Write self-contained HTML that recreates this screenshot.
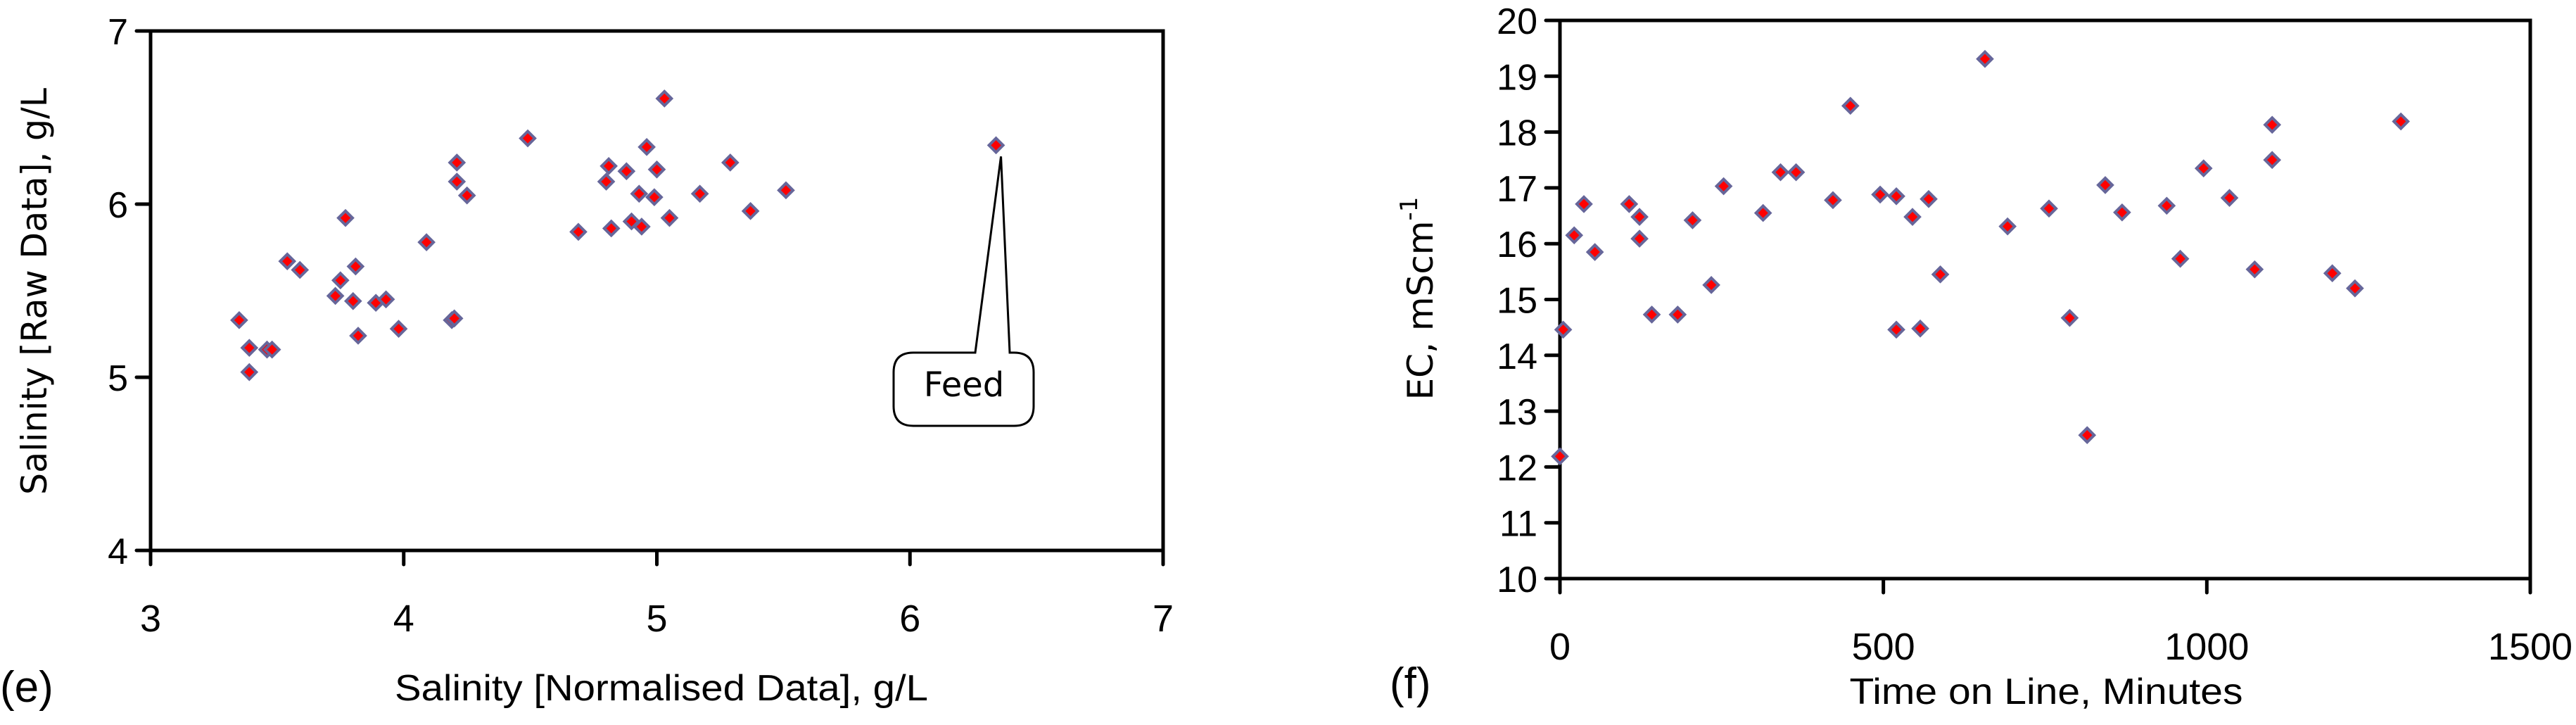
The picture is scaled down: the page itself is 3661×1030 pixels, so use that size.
<!DOCTYPE html>
<html><head><meta charset="utf-8"><style>
html,body{margin:0;padding:0;background:#fff;}
svg{display:block;}
</style></head><body>
<svg id="fig" width="3661" height="1030" viewBox="0 0 3661 1030" xmlns="http://www.w3.org/2000/svg">
<rect x="0" y="0" width="3661" height="1030" fill="#fff"/>
<g id="chartE"></g>
<g id="chartF"></g>
</svg>
<script>
// ---- Chart (e) data ----
const eXTicks = [3, 4, 5, 6, 7];
const eYTicks = [4, 5, 6, 7];
const eNormalised = [3.35,3.39,3.39,3.46,3.48,3.54,3.59,3.73,3.75,3.77,3.80,3.81,3.82,3.89,3.93,3.98,4.09,4.19,4.20,4.21,4.21,4.25,4.49,4.69,4.80,4.81,4.82,4.88,4.90,4.93,4.94,4.96,4.99,5.00,5.03,5.05,5.17,5.29,5.37,5.51,6.34];
const eRaw = [5.33,5.17,5.03,5.16,5.16,5.67,5.62,5.47,5.56,5.92,5.44,5.64,5.24,5.43,5.45,5.28,5.78,5.33,5.34,6.24,6.13,6.05,6.38,5.84,6.13,6.22,5.86,6.19,5.90,6.06,5.87,6.33,6.04,6.20,6.61,5.92,6.06,6.24,5.96,6.08,6.34];
const eFeed = [6.34, 6.34];
// ---- Chart (f) data ----
const fXTicks = [0, 500, 1000, 1500];
const fYTicks = [10,11,12,13,14,15,16,17,18,19,20];
const fTime = [0,5,22,37,54,107,123,123,142,182,205,234,253,314,341,365,422,449,495,520,520,545,557,570,588,657,692,756,788,815,843,869,938,959,995,1035,1074,1101,1101,1194,1229,1300];
const fEC = [12.19,14.46,16.15,16.71,15.85,16.71,16.48,16.09,14.73,14.73,16.42,15.26,17.03,16.55,17.28,17.28,16.78,18.47,16.88,16.85,14.46,16.48,14.48,16.80,15.45,19.31,16.31,16.63,14.67,12.57,17.05,16.56,16.68,15.73,17.35,16.82,15.54,17.50,18.13,15.47,15.20,18.19];

const NS = 'http://www.w3.org/2000/svg';
function mk(parent, tag, attrs, text) {
  const el = document.createElementNS(NS, tag);
  for (const k in attrs) el.setAttribute(k, attrs[k]);
  if (text !== undefined) el.textContent = text;
  parent.appendChild(el);
  return el;
}
function diamond(g, cx, cy) {
  const d = mk(g, 'path', {d:`M${cx},${cy-10}L${cx+10},${cy}L${cx},${cy+10}L${cx-10},${cy}Z`, fill:'#ff0000', stroke:'#66669a', 'stroke-width':4});
  
  
}
const tickFont = '"Liberation Sans", sans-serif';

function drawAxes(g, L, R, T, B, xs, ys, xTicks, yTicks, xLabY) {
  const box = mk(g, 'rect', {x:L, y:T, width:R-L, height:B-T, fill:'none', stroke:'#000', 'stroke-width':5});
  
  
  for (const v of yTicks) {
    const y = ys(v);
    const t = mk(g, 'line', {x1:L-20, x2:L, y1:y, y2:y, stroke:'#000', 'stroke-width':5, 'stroke-linecap':'round'});
    
    
    const lb = mk(g, 'text', {x:L-32, y:y+19, 'text-anchor':'end', 'font-family':tickFont, 'font-size':52}, String(v));
    
    
  }
  for (const v of xTicks) {
    const x = xs(v);
    const t = mk(g, 'line', {x1:x, x2:x, y1:B, y2:B+20, stroke:'#000', 'stroke-width':5, 'stroke-linecap':'round'});
    
    
    const lb = mk(g, 'text', {x:x, y:xLabY, 'text-anchor':'middle', 'font-family':tickFont, 'font-size':54}, String(v));
    
    
  }
}

// ---- Chart (e) ----
(function(){
  const g = document.getElementById('chartE');
  const L=214, R=1653, T=44, B=782;
  const xs = v => L + (v-3)/(7-3)*(R-L);
  const ys = v => B - (v-4)/(7-4)*(B-T);
  drawAxes(g, L, R, T, B, xs, ys, eXTicks, eYTicks, 897);
  for (let i=0;i<eNormalised.length;i++) diamond(g, xs(eNormalised[i]), ys(eRaw[i]));
  const fx = xs(eFeed[0]), fy = ys(eFeed[1]);
  const bx=1270, by=501, bw=199, bh=104, r=28;
  const tipX = fx+7, tipY = fy+16;
  const call = mk(g, 'path', {d:`M${bx+r},${by} L1386,${by} L${tipX},${tipY} L1435,${by} L${bx+bw-r},${by} Q${bx+bw},${by} ${bx+bw},${by+r} L${bx+bw},${by+bh-r} Q${bx+bw},${by+bh} ${bx+bw-r},${by+bh} L${bx+r},${by+bh} Q${bx},${by+bh} ${bx},${by+bh-r} L${bx},${by+r} Q${bx},${by} ${bx+r},${by} Z`, fill:'#fff', stroke:'#000', 'stroke-width':3});
  
  
  const ft = mk(g, 'text', {x:1370, y:563, 'text-anchor':'middle', 'font-family':'"DejaVu Sans", sans-serif', 'font-size':48}, 'Feed');
  
  
  const yt = mk(g, 'text', {x:0, y:0, transform:'translate(66,414) rotate(-90)', 'text-anchor':'middle', 'font-family':'"DejaVu Sans", sans-serif', 'font-size':50, textLength:578, lengthAdjust:'spacingAndGlyphs'}, 'Salinity [Raw Data], g/L');
  
  
  const xt = mk(g, 'text', {x:940, y:995, 'text-anchor':'middle', 'font-family':tickFont, 'font-size':52, textLength:758, lengthAdjust:'spacingAndGlyphs'}, 'Salinity [Normalised Data], g/L');
  
  
  const pl = mk(g, 'text', {x:0, y:997, 'font-family':tickFont, 'font-size':62}, '(e)');
  
  
})();

// ---- Chart (f) ----
(function(){
  const g = document.getElementById('chartF');
  const L=2217, R=3596, T=29, B=822;
  const xs = v => L + v/1500*(R-L);
  const ys = v => B - (v-10)/10*(B-T);
  drawAxes(g, L, R, T, B, xs, ys, fXTicks, fYTicks, 937);
  for (let i=0;i<fTime.length;i++) diamond(g, xs(fTime[i]), ys(fEC[i]));
  const yt = mk(g, 'text', {x:0, y:0, transform:'translate(2036,424) rotate(-90)', 'text-anchor':'middle', 'font-family':'"DejaVu Sans", sans-serif', 'font-size':50});
  
  
  yt.appendChild(document.createTextNode('EC, mScm'));
  const sup = document.createElementNS(NS, 'tspan');
  sup.setAttribute('dy', '-22');
  sup.setAttribute('font-size', '34');
  sup.textContent = '-1';
  yt.appendChild(sup);
  const xt = mk(g, 'text', {x:2908, y:1000, 'text-anchor':'middle', 'font-family':tickFont, 'font-size':52, textLength:559, lengthAdjust:'spacingAndGlyphs'}, 'Time on Line, Minutes');
  
  
  const pl = mk(g, 'text', {x:1975, y:992, 'font-family':tickFont, 'font-size':62}, '(f)');
  
  
})();
</script>
</body></html>
